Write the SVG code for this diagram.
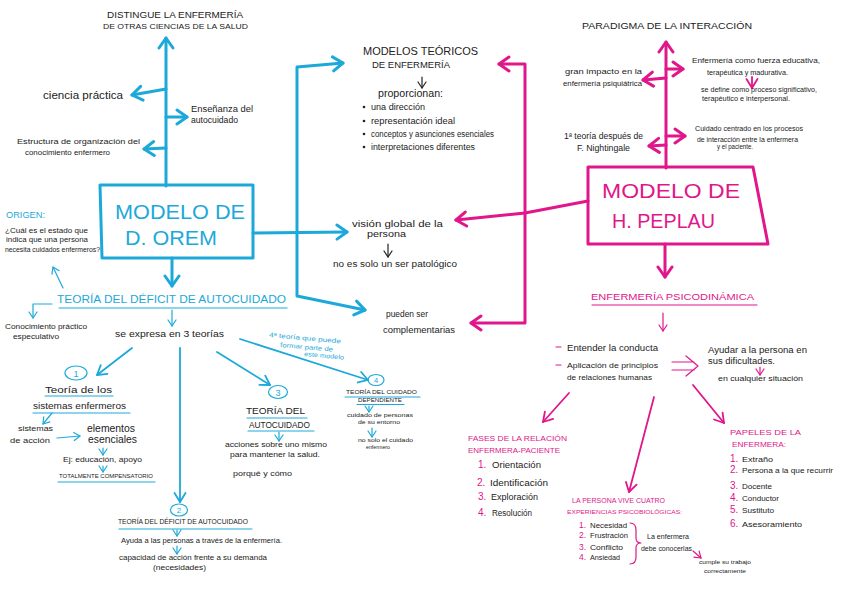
<svg xmlns="http://www.w3.org/2000/svg" width="848" height="599" viewBox="0 0 848 599">
<defs>
<style>
text{font-family:"Liberation Sans",Arial,sans-serif;fill:#222}
text.b{fill:#1CA9D9}
text.m{fill:#E0168A}
.lb{stroke:#1CA9D9;stroke-width:3;fill:none;stroke-linecap:round;stroke-linejoin:round}
.lb2{stroke:#1CA9D9;stroke-width:1.8;fill:none;stroke-linecap:round;stroke-linejoin:round}
.lb1{stroke:#1CA9D9;stroke-width:1.2;fill:none;stroke-linecap:round;stroke-linejoin:round}
.lm{stroke:#E0168A;stroke-width:3;fill:none;stroke-linecap:round;stroke-linejoin:round}
.lm2{stroke:#E0168A;stroke-width:1.8;fill:none;stroke-linecap:round;stroke-linejoin:round}
.lm1{stroke:#E0168A;stroke-width:1.2;fill:none;stroke-linecap:round;stroke-linejoin:round}
.lk1{stroke:#222;stroke-width:1.2;fill:none;stroke-linecap:round;stroke-linejoin:round}
</style>
<marker id="ab3" viewBox="0 0 14 18" markerWidth="14" markerHeight="18" refX="12" refY="9" orient="auto" markerUnits="userSpaceOnUse"><path d="M2,2 L12,9 L2,16" fill="none" stroke="#1CA9D9" stroke-width="3" stroke-linecap="round" stroke-linejoin="round"/></marker>
<marker id="ab2" viewBox="0 0 12 14" markerWidth="12" markerHeight="14" refX="10.5" refY="7" orient="auto" markerUnits="userSpaceOnUse"><path d="M1.5,1.5 L10.5,7 L1.5,12.5" fill="none" stroke="#1CA9D9" stroke-width="1.8" stroke-linecap="round" stroke-linejoin="round"/></marker>
<marker id="ab1" viewBox="0 0 8 10" markerWidth="8" markerHeight="10" refX="7" refY="5" orient="auto" markerUnits="userSpaceOnUse"><path d="M1,1 L7,5 L1,9" fill="none" stroke="#1CA9D9" stroke-width="1.2" stroke-linecap="round" stroke-linejoin="round"/></marker>
<marker id="am3" viewBox="0 0 14 18" markerWidth="14" markerHeight="18" refX="12" refY="9" orient="auto" markerUnits="userSpaceOnUse"><path d="M2,2 L12,9 L2,16" fill="none" stroke="#E0168A" stroke-width="3" stroke-linecap="round" stroke-linejoin="round"/></marker>
<marker id="am2" viewBox="0 0 12 14" markerWidth="12" markerHeight="14" refX="10.5" refY="7" orient="auto" markerUnits="userSpaceOnUse"><path d="M1.5,1.5 L10.5,7 L1.5,12.5" fill="none" stroke="#E0168A" stroke-width="1.8" stroke-linecap="round" stroke-linejoin="round"/></marker>
<marker id="am1" viewBox="0 0 8 10" markerWidth="8" markerHeight="10" refX="7" refY="5" orient="auto" markerUnits="userSpaceOnUse"><path d="M1,1 L7,5 L1,9" fill="none" stroke="#E0168A" stroke-width="1.2" stroke-linecap="round" stroke-linejoin="round"/></marker>
<marker id="ak1" viewBox="0 0 8 10" markerWidth="8" markerHeight="10" refX="7" refY="5" orient="auto" markerUnits="userSpaceOnUse"><path d="M1,1 L7,5 L1,9" fill="none" stroke="#222" stroke-width="1.2" stroke-linecap="round" stroke-linejoin="round"/></marker>
</defs>
<rect width="848" height="599" fill="#fff"/>

<g id="connectors">
<path class="lb" d="M166,186 V38" marker-end="url(#ab3)"/>
<path class="lb" d="M166,89 L132,95" marker-end="url(#ab3)"/>
<path class="lb" d="M166,117 H187" marker-end="url(#ab3)"/>
<path class="lb" d="M166,148 L144,149" marker-end="url(#ab3)"/>
<path class="lb" d="M172,258 V286" marker-end="url(#ab3)"/>
<path class="lb" d="M253,233 L347,232" marker-end="url(#ab3)"/>
<path class="lb" d="M297,232 V67 L343,63" marker-end="url(#ab3)"/>
<path class="lb" d="M297,232 V296 L365,310" marker-end="url(#ab3)"/>
<path class="lb1" d="M63,288 L53,267" marker-end="url(#ab1)"/>
<path class="lb1" d="M52,304 H33 V318" marker-end="url(#ab1)"/>
<path class="lb1" d="M172,310 V326" marker-end="url(#ab1)"/>
<path class="lb2" d="M132,348 L97,375" marker-end="url(#ab2)"/>
<path class="lb2" d="M180,348 V502" marker-end="url(#ab2)"/>
<path class="lb2" d="M217,352 L270,385" marker-end="url(#ab2)"/>
<path class="lb2" d="M240,339 L368,380" marker-end="url(#ab2)"/>
<path class="lb1" d="M52,413 L43,424" marker-end="url(#ab1)"/>
<path class="lb1" d="M57,438 L80,436" marker-end="url(#ab1)"/>
<path class="lb1" d="M103,448 V455" marker-end="url(#ab1)"/>
<path class="lb1" d="M103,466 V472" marker-end="url(#ab1)"/>
<path class="lb1" d="M177,530 V536" marker-end="url(#ab1)"/>
<path class="lb1" d="M177,546 V554" marker-end="url(#ab1)"/>
<path class="lb1" d="M279,432 V441" marker-end="url(#ab1)"/>
<path class="lb1" d="M369,406 V412" marker-end="url(#ab1)"/>
<path class="lb1" d="M372,428 V437" marker-end="url(#ab1)"/>
<path class="lk1" d="M422,77 V88" marker-end="url(#ak1)"/>
<path class="lk1" d="M388,244 V257" marker-end="url(#ak1)"/>

<path class="lm" d="M666,168 V42" marker-end="url(#am3)"/>
<path class="lm" d="M666,78 L643,80" marker-end="url(#am3)"/>
<path class="lm" d="M666,69 H683" marker-end="url(#am3)"/>
<path class="lm" d="M666,136 H685" marker-end="url(#am3)"/>
<path class="lm" d="M666,145 L649,146" marker-end="url(#am3)"/>
<path class="lm2" d="M752,77 V88" marker-end="url(#am2)"/>
<path class="lm" d="M588,201 L525,213 L456,220" marker-end="url(#am3)"/>
<path class="lm" d="M525,213 V64 H499" marker-end="url(#am3)"/>
<path class="lm" d="M525,213 V323 H471" marker-end="url(#am3)"/>
<path class="lm" d="M665,244 V277" marker-end="url(#am3)"/>
<path class="lm1" d="M663,313 V331" marker-end="url(#am1)"/>
<path class="lm1" d="M672,362 H694 M672,370 H694 M686,356 L698,366 L686,376"/>
<path class="lm1" d="M760,367 V375" marker-end="url(#am1)"/>
<path class="lm2" d="M569,393 L543,422" marker-end="url(#am2)"/>
<path class="lm2" d="M654,397 L629,492" marker-end="url(#am2)"/>
<path class="lm2" d="M693,385 L724,423" marker-end="url(#am2)"/>
<path class="lm1" d="M693,551 L701,558" marker-end="url(#am1)"/>
</g>

<g id="distingue">
<text x="107" y="18" font-size="9" textLength="136" lengthAdjust="spacingAndGlyphs">DISTINGUE LA ENFERMERÍA</text>
<text x="103" y="29" font-size="7.5" textLength="145" lengthAdjust="spacingAndGlyphs">DE OTRAS CIENCIAS DE LA SALUD</text>
</g>
<g id="ciencia-practica"><text x="43" y="99" font-size="11" textLength="80" lengthAdjust="spacingAndGlyphs">ciencia práctica</text></g>
<g id="ensenanza">
<text x="191" y="112" font-size="8.5" textLength="62" lengthAdjust="spacingAndGlyphs">Enseñanza del</text>
<text x="191" y="123" font-size="8.5" textLength="47" lengthAdjust="spacingAndGlyphs">autocuidado</text>
</g>
<g id="estructura">
<text x="17" y="144" font-size="7.5" textLength="123" lengthAdjust="spacingAndGlyphs">Estructura de organización del</text>
<text x="25" y="155" font-size="7.5" textLength="85" lengthAdjust="spacingAndGlyphs">conocimiento enfermero</text>
</g>

<g id="modelo-orem">
<path class="lb" d="M100,185 L253,185 L253,258 L102,258 Z"/>
<text class="b" x="115" y="219" font-size="21" textLength="130" lengthAdjust="spacingAndGlyphs">MODELO DE</text>
<text class="b" x="125" y="245" font-size="21" textLength="92" lengthAdjust="spacingAndGlyphs">D. OREM</text>
</g>

<g id="origen">
<text class="b" x="6" y="218" font-size="9" textLength="39" lengthAdjust="spacingAndGlyphs">ORIGEN:</text>
<text x="5" y="233" font-size="7" textLength="83" lengthAdjust="spacingAndGlyphs">¿Cuál es el estado que</text>
<text x="6" y="242" font-size="7" textLength="82" lengthAdjust="spacingAndGlyphs">indica que una persona</text>
<text x="5" y="252" font-size="7" textLength="95" lengthAdjust="spacingAndGlyphs">necesita cuidados enfermeros?</text>
</g>

<g id="teoria-deficit">
<text class="b" x="57" y="303" font-size="11" textLength="229" lengthAdjust="spacingAndGlyphs">TEORÍA DEL DÉFICIT DE AUTOCUIDADO</text>
<path class="lb1" d="M59,308 H287"/>
</g>
<g id="conocimiento">
<text x="5" y="329" font-size="7.5" textLength="82" lengthAdjust="spacingAndGlyphs">Conocimiento práctico</text>
<text x="13" y="339" font-size="7.5" textLength="46" lengthAdjust="spacingAndGlyphs">especulativo</text>
</g>
<g id="se-expresa"><text x="115" y="337" font-size="9.5" textLength="109" lengthAdjust="spacingAndGlyphs">se expresa en 3 teorías</text></g>

<g id="teoria-1">
<ellipse class="lb1" cx="76" cy="373" rx="11" ry="7"/>
<text class="b" x="76" y="376.5" font-size="9" text-anchor="middle">1</text>
<text x="45" y="393" font-size="9.5" textLength="67" lengthAdjust="spacingAndGlyphs">Teoría de los</text>
<path class="lb1" d="M45,396 H113"/>
<text x="33" y="409" font-size="9.5" textLength="93" lengthAdjust="spacingAndGlyphs">sistemas enfermeros</text>
<path class="lb1" d="M33,413 H130"/>
</g>
<g id="sistemas-accion">
<text x="18" y="431" font-size="8" textLength="35" lengthAdjust="spacingAndGlyphs">sistemas</text>
<text x="10" y="443" font-size="8" textLength="40" lengthAdjust="spacingAndGlyphs">de acción</text>
</g>
<g id="elementos">
<text x="87" y="432" font-size="10" textLength="48" lengthAdjust="spacingAndGlyphs">elementos</text>
<text x="88" y="443" font-size="10" textLength="49" lengthAdjust="spacingAndGlyphs">esenciales</text>
<text x="63" y="462" font-size="7.5" textLength="79" lengthAdjust="spacingAndGlyphs">Ej: educación, apoyo</text>
<text x="59" y="478" font-size="6" textLength="94" lengthAdjust="spacingAndGlyphs">TOTALMENTE COMPENSATORIO</text>
<path class="lb1" d="M58,482 H155"/>
</g>

<g id="teoria-2">
<ellipse class="lb1" cx="179" cy="510" rx="8.5" ry="6"/>
<text class="b" x="179" y="513" font-size="8" text-anchor="middle">2</text>
<text x="118" y="524" font-size="6.5" textLength="130" lengthAdjust="spacingAndGlyphs">TEORÍA DEL DÉFICIT DE AUTOCUIDADO</text>
<path class="lb1" d="M119,529 H252"/>
<text x="121" y="543" font-size="6.8" textLength="161" lengthAdjust="spacingAndGlyphs">Ayuda a las personas a través de la enfermería.</text>
<text x="119" y="560" font-size="7.3" textLength="148" lengthAdjust="spacingAndGlyphs">capacidad de acción frente a su demanda</text>
<text x="153" y="570" font-size="7.5" textLength="53" lengthAdjust="spacingAndGlyphs">(necesidades)</text>
</g>

<g id="teoria-3">
<ellipse class="lb1" cx="278" cy="392" rx="9.5" ry="6.5"/>
<text class="b" x="278" y="395.5" font-size="9" text-anchor="middle">3</text>
<text x="246" y="414" font-size="9" textLength="59" lengthAdjust="spacingAndGlyphs">TEORÍA DEL</text>
<path class="lb1" d="M247,418 H307"/>
<text x="249" y="428" font-size="9" textLength="61" lengthAdjust="spacingAndGlyphs">AUTOCUIDADO</text>
<path class="lb1" d="M248,431 H314"/>
<text x="225" y="447" font-size="7.5" textLength="102" lengthAdjust="spacingAndGlyphs">acciones sobre uno mismo</text>
<text x="230" y="457" font-size="7.5" textLength="90" lengthAdjust="spacingAndGlyphs">para mantener la salud.</text>
<text x="233" y="476" font-size="8" textLength="59" lengthAdjust="spacingAndGlyphs">porqué y cómo</text>
</g>

<g id="cuarta-teoria">
<text class="b" x="269" y="337" font-size="6.5" transform="rotate(5 269 337)" textLength="72" lengthAdjust="spacingAndGlyphs">4ª teoría que puede</text>
<text class="b" x="280" y="347" font-size="6.5" transform="rotate(5 280 347)" textLength="53" lengthAdjust="spacingAndGlyphs">formar parte de</text>
<text class="b" x="304" y="356" font-size="6.5" transform="rotate(5 304 356)" textLength="40" lengthAdjust="spacingAndGlyphs">este modelo</text>
</g>

<g id="teoria-4">
<ellipse class="lb1" cx="376" cy="380" rx="8" ry="5.5"/>
<text class="b" x="376" y="383" font-size="7.5" text-anchor="middle">4</text>
<text x="346" y="394" font-size="6" textLength="71" lengthAdjust="spacingAndGlyphs">TEORÍA DEL CUIDADO</text>
<path class="lb1" d="M345,397 H420"/>
<text x="358" y="402" font-size="6" textLength="44" lengthAdjust="spacingAndGlyphs">DEPENDIENTE</text>
<path class="lb1" d="M357,404.5 H404"/>
<text x="347" y="417" font-size="6.2" textLength="66" lengthAdjust="spacingAndGlyphs">cuidado de personas</text>
<text x="358" y="424" font-size="6.2" textLength="42" lengthAdjust="spacingAndGlyphs">de su entorno</text>
<text x="358" y="442" font-size="6.2" textLength="55" lengthAdjust="spacingAndGlyphs">no solo el cuidado</text>
<text x="366" y="449" font-size="6.2" textLength="24" lengthAdjust="spacingAndGlyphs">enfermero</text>
</g>

<g id="modelos-teoricos">
<text x="363" y="55" font-size="11" textLength="115" lengthAdjust="spacingAndGlyphs">MODELOS TEÓRICOS</text>
<text x="372" y="68" font-size="9.5" textLength="78" lengthAdjust="spacingAndGlyphs">DE ENFERMERÍA</text>
<text x="378" y="97" font-size="10" textLength="65" lengthAdjust="spacingAndGlyphs">proporcionan:</text>
<circle cx="364" cy="107" r="1.3" fill="#222"/>
<text x="371" y="110" font-size="8.5" textLength="54" lengthAdjust="spacingAndGlyphs">una dirección</text>
<circle cx="364" cy="121" r="1.3" fill="#222"/>
<text x="371" y="124" font-size="8.5" textLength="84" lengthAdjust="spacingAndGlyphs">representación ideal</text>
<circle cx="364" cy="134" r="1.3" fill="#222"/>
<text x="371" y="137" font-size="8.5" textLength="123" lengthAdjust="spacingAndGlyphs">conceptos y asunciones esenciales</text>
<circle cx="364" cy="147" r="1.3" fill="#222"/>
<text x="371" y="150" font-size="8.5" textLength="104" lengthAdjust="spacingAndGlyphs">interpretaciones diferentes</text>
</g>

<g id="vision-global">
<text x="352" y="227" font-size="9.5" textLength="91" lengthAdjust="spacingAndGlyphs">visión global de la</text>
<text x="367" y="237" font-size="9.5" textLength="39" lengthAdjust="spacingAndGlyphs">persona</text>
<text x="333" y="267" font-size="8.5" textLength="124" lengthAdjust="spacingAndGlyphs">no es solo un ser patológico</text>
</g>

<g id="complementarias">
<text x="386" y="317" font-size="9" textLength="42" lengthAdjust="spacingAndGlyphs">pueden ser</text>
<text x="383" y="333" font-size="9.5" textLength="72" lengthAdjust="spacingAndGlyphs">complementarias</text>
</g>

<g id="paradigma"><text x="582" y="29" font-size="9.5" textLength="170" lengthAdjust="spacingAndGlyphs">PARADIGMA DE LA INTERACCIÓN</text></g>
<g id="gran-impacto">
<text x="565" y="74" font-size="8" textLength="77" lengthAdjust="spacingAndGlyphs">gran impacto en la</text>
<text x="563" y="86" font-size="8" textLength="79" lengthAdjust="spacingAndGlyphs">enfermería psiquiátrica</text>
</g>
<g id="fuerza-educativa">
<text x="692" y="63" font-size="7.5" textLength="128" lengthAdjust="spacingAndGlyphs">Enfermería como fuerza educativa,</text>
<text x="707" y="75" font-size="7.5" textLength="81" lengthAdjust="spacingAndGlyphs">terapéutica y madurativa.</text>
<text x="701" y="92" font-size="6.5" textLength="116" lengthAdjust="spacingAndGlyphs">se define como proceso significativo,</text>
<text x="702" y="101" font-size="6.5" textLength="88" lengthAdjust="spacingAndGlyphs">terapéutico e interpersonal.</text>
</g>
<g id="cuidado-centrado">
<text x="695" y="131" font-size="6.8" textLength="108" lengthAdjust="spacingAndGlyphs">Cuidado centrado en los procesos</text>
<text x="697" y="142" font-size="6.8" textLength="101" lengthAdjust="spacingAndGlyphs">de interacción entre la enfermera</text>
<text x="717" y="149" font-size="6.8" textLength="36" lengthAdjust="spacingAndGlyphs">y el paciente.</text>
</g>
<g id="primera-teoria">
<text x="564" y="139" font-size="8.5" textLength="79" lengthAdjust="spacingAndGlyphs">1ª teoría después de</text>
<text x="577" y="151" font-size="8.5" textLength="53" lengthAdjust="spacingAndGlyphs">F. Nightingale</text>
</g>

<g id="modelo-peplau">
<path class="lm" d="M588,167 L753,167 L768,244 L588,244 Z"/>
<text class="m" x="602" y="198" font-size="20" textLength="138" lengthAdjust="spacingAndGlyphs">MODELO DE</text>
<text class="m" x="612" y="228" font-size="20" textLength="103" lengthAdjust="spacingAndGlyphs">H. PEPLAU</text>
</g>

<g id="psicodinamica">
<text class="m" x="591" y="300" font-size="9.5" textLength="163" lengthAdjust="spacingAndGlyphs">ENFERMERÍA PSICODINÁMICA</text>
<path class="lm1" d="M592,305 H757"/>
</g>
<g id="entender">
<path class="lm1" d="M556,347 H561 M556,365 H561"/>
<text x="567" y="351" font-size="9" textLength="91" lengthAdjust="spacingAndGlyphs">Entender la conducta</text>
<text x="567" y="368" font-size="8" textLength="91" lengthAdjust="spacingAndGlyphs">Aplicación de principios</text>
<text x="567" y="380" font-size="8" textLength="85" lengthAdjust="spacingAndGlyphs">de relaciones humanas</text>
</g>
<g id="ayudar">
<text x="708" y="353" font-size="8.5" textLength="99" lengthAdjust="spacingAndGlyphs">Ayudar a la persona en</text>
<text x="708" y="364" font-size="8.5" textLength="67" lengthAdjust="spacingAndGlyphs">sus dificultades.</text>
<text x="718" y="381" font-size="8" textLength="85" lengthAdjust="spacingAndGlyphs">en cualquier situación</text>
</g>

<g id="fases">
<text class="m" x="468" y="441" font-size="7.5" textLength="99" lengthAdjust="spacingAndGlyphs">FASES DE LA RELACIÓN</text>
<text class="m" x="468" y="453" font-size="7.5" textLength="92" lengthAdjust="spacingAndGlyphs">ENFERMERA-PACIENTE</text>
<text class="m" x="478" y="468" font-size="10">1.</text><text x="492" y="468" font-size="8.5" textLength="49" lengthAdjust="spacingAndGlyphs">Orientación</text>
<text class="m" x="477" y="486" font-size="10">2.</text><text x="490" y="486" font-size="8.5" textLength="58" lengthAdjust="spacingAndGlyphs">Identificación</text>
<text class="m" x="478" y="500" font-size="10">3.</text><text x="491" y="500" font-size="8.5" textLength="47" lengthAdjust="spacingAndGlyphs">Exploración</text>
<text class="m" x="478" y="516" font-size="10">4.</text><text x="492" y="516" font-size="8.5" textLength="40" lengthAdjust="spacingAndGlyphs">Resolución</text>
</g>

<g id="experiencias">
<text class="m" x="572" y="503" font-size="6.5" textLength="93" lengthAdjust="spacingAndGlyphs">LA PERSONA VIVE CUATRO</text>
<text class="m" x="567" y="514" font-size="6" textLength="115" lengthAdjust="spacingAndGlyphs">EXPERIENCIAS PSICOBIOLÓGICAS:</text>
<text class="m" x="579" y="528" font-size="8.5">1.</text><text x="590" y="528" font-size="6.5" textLength="37" lengthAdjust="spacingAndGlyphs">Necesidad</text>
<text class="m" x="579" y="538" font-size="8.5">2.</text><text x="590" y="538" font-size="6.5" textLength="38" lengthAdjust="spacingAndGlyphs">Frustración</text>
<text class="m" x="579" y="550" font-size="8.5">3.</text><text x="590" y="550" font-size="6.5" textLength="33" lengthAdjust="spacingAndGlyphs">Conflicto</text>
<text class="m" x="579" y="560" font-size="8.5">4.</text><text x="590" y="560" font-size="6.5" textLength="30" lengthAdjust="spacingAndGlyphs">Ansiedad</text>
<path class="lm1" d="M630,523 Q636,523 636,530 L636,538 Q636,543 641,543 Q636,543 636,548 L636,557 Q636,564 630,564"/>
<text x="647" y="539" font-size="7" textLength="42" lengthAdjust="spacingAndGlyphs">La enfermera</text>
<text x="641" y="551" font-size="7" textLength="51" lengthAdjust="spacingAndGlyphs">debe conocerlas</text>
</g>
<g id="cumple">
<text x="699" y="564" font-size="6" textLength="52" lengthAdjust="spacingAndGlyphs">cumple su trabajo</text>
<text x="704" y="573" font-size="6" textLength="42" lengthAdjust="spacingAndGlyphs">correctamente</text>
</g>

<g id="papeles">
<text class="m" x="730" y="435" font-size="8" textLength="71" lengthAdjust="spacingAndGlyphs">PAPELES DE LA</text>
<text class="m" x="732" y="447" font-size="8" textLength="54" lengthAdjust="spacingAndGlyphs">ENFERMERA:</text>
<text class="m" x="730" y="462" font-size="10">1.</text><text x="742" y="462" font-size="8" textLength="31" lengthAdjust="spacingAndGlyphs">Extraño</text>
<text class="m" x="730" y="473" font-size="10">2.</text><text x="742" y="473" font-size="8" textLength="91" lengthAdjust="spacingAndGlyphs">Persona a la que recurrir</text>
<text class="m" x="730" y="489" font-size="10">3.</text><text x="742" y="489" font-size="8" textLength="30" lengthAdjust="spacingAndGlyphs">Docente</text>
<text class="m" x="730" y="501" font-size="10">4.</text><text x="742" y="501" font-size="8" textLength="37" lengthAdjust="spacingAndGlyphs">Conductor</text>
<text class="m" x="730" y="513" font-size="10">5.</text><text x="742" y="513" font-size="8" textLength="32" lengthAdjust="spacingAndGlyphs">Sustituto</text>
<text class="m" x="730" y="527" font-size="10">6.</text><text x="742" y="527" font-size="8" textLength="60" lengthAdjust="spacingAndGlyphs">Asesoramiento</text>
</g>
</svg>
